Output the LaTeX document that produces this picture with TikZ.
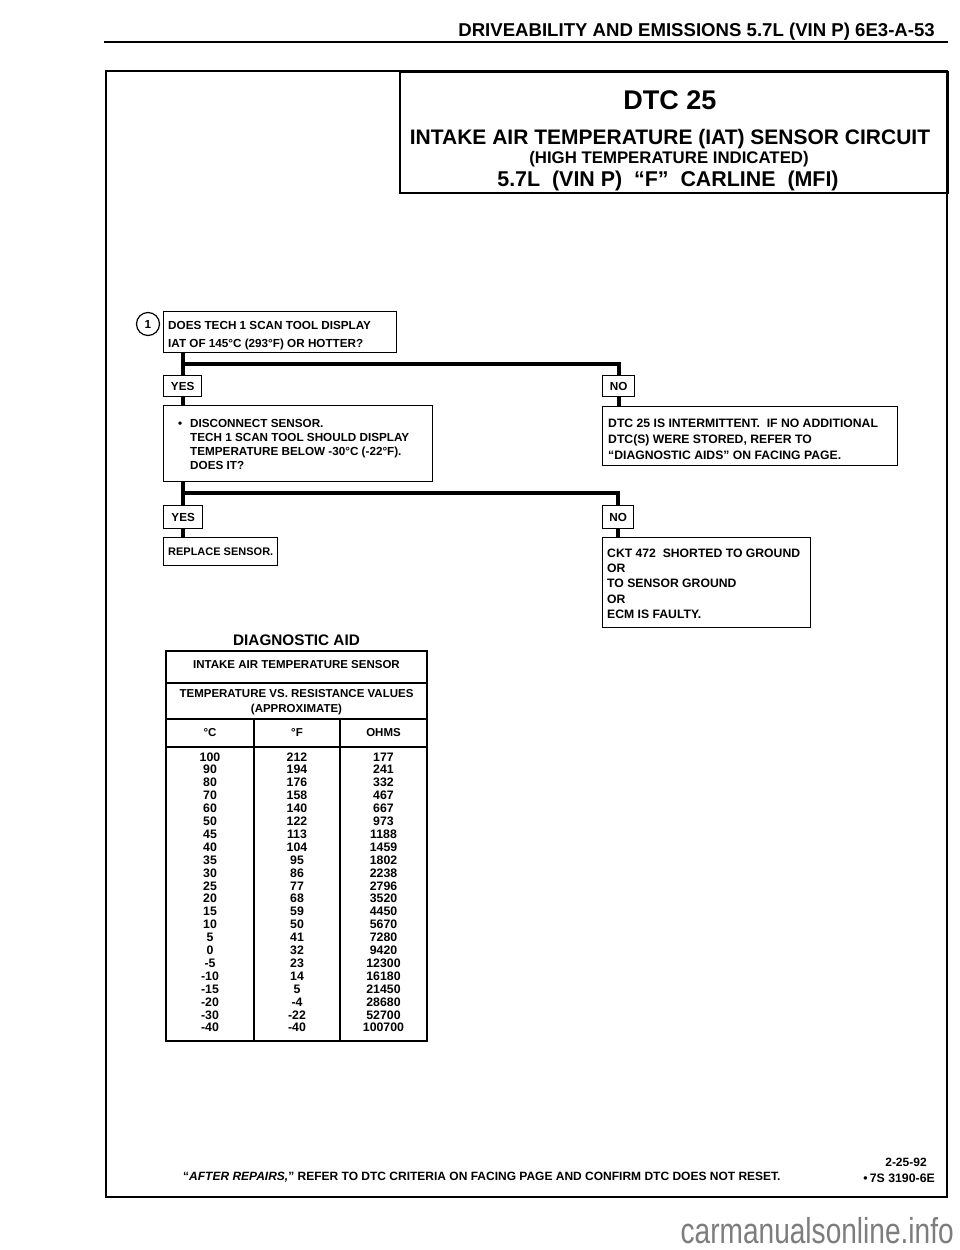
\documentclass[tikz,border=0pt]{standalone}
\usepackage{fontspec}
\setmainfont{Liberation Sans}
\newfontfamily\wmfont{Liberation Sans}[FakeStretch=0.78]
\definecolor{wmgray}{RGB}{125,125,125}
\newcommand{\fsz}[2]{\fontsize{#1}{#2}\selectfont\bfseries}
\newcommand{\myst}{\rule{0pt}{10pt}}
\begin{document}
\begin{tikzpicture}[x=1pt,y=-1pt,
  box/.style={draw, line width=1.4pt, rectangle, anchor=north west, inner sep=0pt},
  txt/.style={anchor=north west, inner sep=0pt, align=left},
  conn/.style={line width=4pt},
  ctr/.style={anchor=base, inner sep=0pt},
  tbl/.style={line width=1.5pt}]
\useasboundingbox (0,0) rectangle (960,1250);
\fill[white] (0,0) rectangle (960,1250);

% header
\node[anchor=base east, inner sep=0pt, font=\fsz{18.6}{20}] (hdr) at (935,36) {DRIVEABILITY AND EMISSIONS 5.7L (VIN P) 6E3-A-53};
\coordinate (rl) at (104,42);
\coordinate (rr) at (948,42);
\draw[line width=2.5pt] (rl) -- (rr);

% frame and title box
\draw[line width=2.8pt] (106,71) rectangle (947,1197);
\node[draw, line width=2pt, anchor=north west, minimum width=548pt, minimum height=121pt, inner sep=0pt] (tbox) at (399,71) {};
\node[ctr, font=\fsz{27}{27}] (t1) at (670,109) {DTC 25};
\node[ctr, font=\fsz{21}{21}] (t2) at (670,144) {INTAKE AIR TEMPERATURE (IAT) SENSOR CIRCUIT};
\node[ctr, font=\fsz{16.8}{18}] (t3) at (669,163) {(HIGH TEMPERATURE INDICATED)};
\node[ctr, font=\fsz{21.4}{21}] (t4) at (668,186) {5.7L\ \ (VIN P)\ \ “F”\ \ CARLINE\ \ (MFI)};

% step 1
\node[circle, draw, line width=1.2pt, minimum size=23pt, inner sep=0pt, font=\fsz{11.7}{12}] (c1) at (148,324) {1};
\node[box, minimum width=233pt, minimum height=41pt] (b1) at (163,311) {};
\node[txt, font=\fsz{11.7}{18}] (b1t) at (168,319) {\myst DOES TECH 1 SCAN TOOL DISPLAY\\IAT OF 145°C (293°F) OR HOTTER?};

\node[box, minimum width=38pt, minimum height=21pt, font=\fsz{11.7}{12}] (yes1) at (163,375) {YES};
\node[box, minimum width=32pt, minimum height=21pt, font=\fsz{11.7}{12}] (no1) at (602,375) {NO};

\node[box, minimum width=269pt, minimum height=76pt] (b2) at (163,405) {};
\node[txt, font=\fsz{11.7}{14.2}] (b2t) at (190,417) {\myst\llap{\textbullet\hspace{8pt}}DISCONNECT SENSOR.\\TECH 1 SCAN TOOL SHOULD DISPLAY\\TEMPERATURE BELOW -30°C (-22°F).\\DOES IT?};

\node[box, minimum width=295pt, minimum height=59pt] (b3) at (602,406) {};
\node[txt, font=\fsz{12.2}{16}] (b3t) at (608,417) {\myst DTC 25 IS INTERMITTENT.\ \ IF NO ADDITIONAL\\DTC(S) WERE STORED, REFER TO\\“DIAGNOSTIC AIDS” ON FACING PAGE.};

\coordinate (j1) at (0,364);
\draw[conn] (b1.south -| yes1.north) -- (yes1.north);
\draw[conn] (yes1.north |- j1) -| (no1.north);
\draw[conn] (yes1.south) -- (yes1.south |- b2.north);
\draw[conn] (no1.south) -- (no1.south |- b3.north);

% step 2
\node[box, minimum width=39pt, minimum height=23pt, font=\fsz{11.7}{12}] (yes2) at (163,505) {YES};
\node[box, minimum width=31pt, minimum height=23pt, font=\fsz{11.7}{12}] (no2) at (602,505) {NO};
\node[box, minimum width=114pt, minimum height=28pt, font=\fsz{11}{12}] (rep) at (163,537) {REPLACE SENSOR.};
\node[box, minimum width=208pt, minimum height=90pt] (ckt) at (602,537) {};
\node[txt, font=\fsz{12.2}{15.3}] (cktt) at (607,547) {\myst CKT 472\ \ SHORTED TO GROUND\\OR\\TO SENSOR GROUND\\OR\\ECM IS FAULTY.};

\coordinate (j2) at (0,493);
\draw[conn] (b2.south -| yes2.north) -- (yes2.north);
\draw[conn] (yes2.north |- j2) -| (no2.north);
\draw[conn] (yes2.south) -- (yes2.south |- rep.north);
\draw[conn] (no2.south) -- (no2.south |- ckt.north);

% diagnostic aid table
\node[ctr, font=\fsz{15.3}{16}] (dai) at (296.5,645) {DIAGNOSTIC AID};
\draw[tbl] (166,651) rectangle (427,1041);
\draw[tbl] (166,683) -- (427,683);
\draw[tbl] (166,719) -- (427,719);
\draw[tbl] (166,747) -- (427,747);
\draw[tbl] (254,719) -- (254,1041);
\draw[tbl] (340,719) -- (340,1041);
\node[ctr, font=\fsz{11.5}{12}] (th1) at (296.5,668) {INTAKE AIR TEMPERATURE SENSOR};
\node[ctr, font=\fsz{11.5}{12}] (th2) at (296.5,697) {TEMPERATURE VS. RESISTANCE VALUES};
\node[ctr, font=\fsz{11.5}{12}] (th3) at (296.5,712) {(APPROXIMATE)};
\node[ctr, font=\fsz{11.5}{12}] (hc) at (210,736) {°C};
\node[ctr, font=\fsz{11.5}{12}] (hf) at (297,736) {°F};
\node[ctr, font=\fsz{11.5}{12}] (ho) at (383.5,736) {OHMS};
\foreach \c/\f/\o [count=\i from 0] in {100/212/177, 90/194/241, 80/176/332, 70/158/467, 60/140/667, 50/122/973, 45/113/1188, 40/104/1459, 35/95/1802, 30/86/2238, 25/77/2796, 20/68/3520, 15/59/4450, 10/50/5670, 5/41/7280, 0/32/9420, -5/23/12300, -10/14/16180, -15/5/21450, -20/-4/28680, -30/-22/52700, -40/-40/100700}{
  \node[ctr, font=\fsz{12.3}{12}] (dc\i) at (210,{761+\i*12.9}) {\c};
  \node[ctr, font=\fsz{12.3}{12}] (df\i) at (297,{761+\i*12.9}) {\f};
  \node[ctr, font=\fsz{12.3}{12}] (do\i) at (383.5,{761+\i*12.9}) {\o};
}

% footer
\node[anchor=base west, inner sep=0pt, font=\fsz{12}{12}] (foot) at (183,1180) {“\textit{AFTER REPAIRS,}” REFER TO DTC CRITERIA ON FACING PAGE AND CONFIRM DTC DOES NOT RESET.};
\node[ctr, font=\fsz{12}{12}] (date) at (906,1166) {2-25-92};
\node[anchor=base east, inner sep=0pt, font=\fsz{12.3}{12}] (ref) at (935,1182) {\textbullet\,7S 3190-6E};

% watermark
\node[anchor=base east, inner sep=0pt, font=\wmfont\fontsize{36}{36}\selectfont, text=wmgray] (wm) at (954,1243) {carmanualsonline.info};
\end{tikzpicture}
\end{document}
